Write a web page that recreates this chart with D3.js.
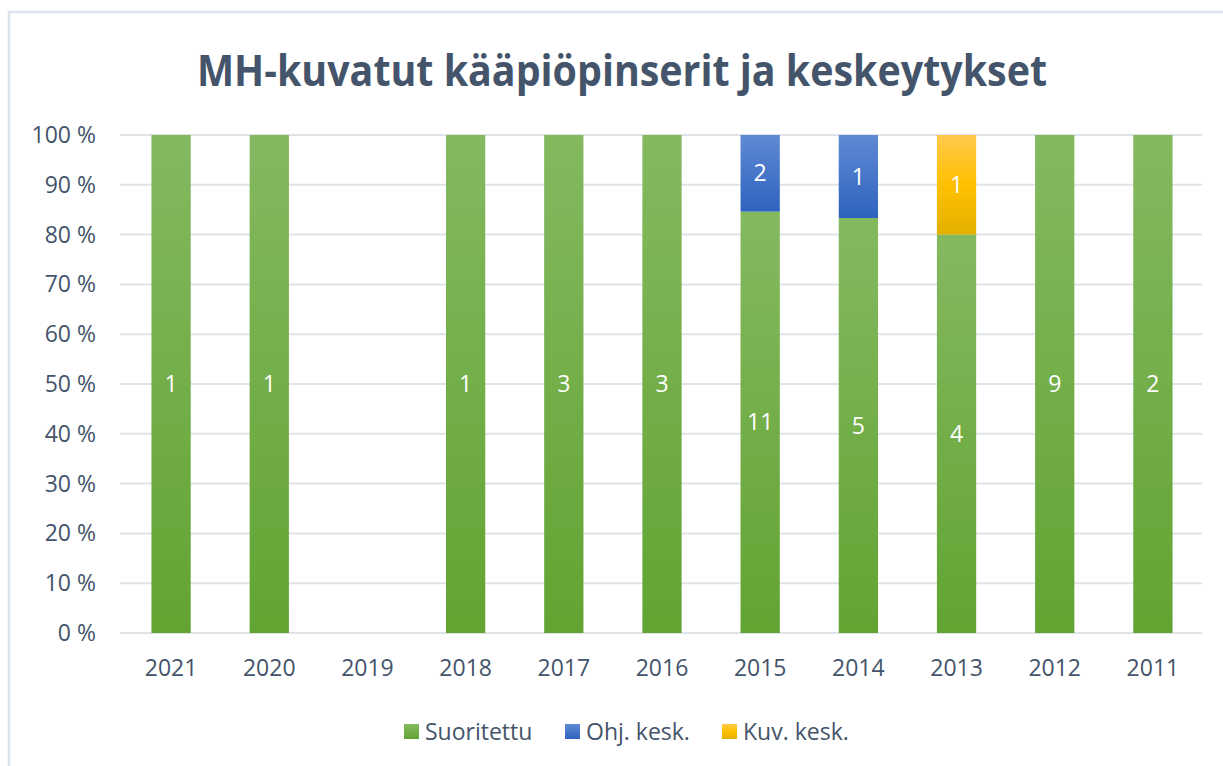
<!DOCTYPE html>
<html lang="fi">
<head>
  <meta charset="UTF-8">
  <title>MH-kuvatut kääpiöpinserit ja keskeytykset</title>
  <script src="https://d3js.org/d3.v7.min.js"></script>
  <style>
    body { margin: 0; background: white; }
    text { font-family: "Open Sans", "Noto Sans", sans-serif; fill: #44546a; }
  </style>
</head>
<body>
<svg id="chart" width="1223" height="766"></svg>

<script>
  // Chart data
  const years = ["2021", "2020", "2019", "2018", "2017", "2016", "2015", "2014", "2013", "2012", "2011"];
  const suoritettu = [1, 1, 0, 1, 3, 3, 11, 5, 4, 9, 2];
  const ohjKesk = [0, 0, 0, 0, 0, 0, 2, 1, 0, 0, 0];
  const kuvKesk = [0, 0, 0, 0, 0, 0, 0, 0, 1, 0, 0];
  const seriesNames = ["Suoritettu", "Ohj. kesk.", "Kuv. kesk."];
  const yTicks = [0, 0.1, 0.2, 0.3, 0.4, 0.5, 0.6, 0.7, 0.8, 0.9, 1];

  const rows = years.map((y, i) => ({year: y, s0: suoritettu[i], s1: ohjKesk[i], s2: kuvKesk[i]}));

  const svg = d3.select("#chart");

  // chart frame
  svg.append("rect")
          .attr("x", 9).attr("y", 12)
          .attr("width", 1230).attr("height", 770)
          .attr("fill", "white")
          .attr("stroke", "#dde3ea").attr("stroke-width", 2.5);

  // gradients per series, top lighter, bottom darker
  const grads = [
    [["0%", "#84b960"], ["100%", "#62a432"]],
    [["0%", "#5f89d3"], ["100%", "#2f63bf"]],
    [["0%", "#ffc94c"], ["50%", "#ffc000"], ["100%", "#e2b000"]]
  ];
  const defs = svg.append("defs");
  grads.forEach((stops, k) => {
    const g = defs.append("linearGradient").attr("id", "grad" + k)
            .attr("x1", 0).attr("y1", 0).attr("x2", 0).attr("y2", 1);
    stops.forEach(s => g.append("stop").attr("offset", s[0]).attr("stop-color", s[1]));
  });

  const x = d3.scaleBand().domain(years).range([122, 1202]).paddingInner(0.6).paddingOuter(0.3);
  const y = d3.scaleLinear().domain([0, 1]).range([633, 135]);

  // gridlines
  svg.append("g")
          .selectAll("line")
          .data(yTicks)
          .enter().append("line")
          .attr("x1", 120).attr("x2", 1202)
          .attr("y1", d => y(d)).attr("y2", d => y(d))
          .attr("stroke", "#dfe3e8").attr("stroke-width", 2);

  // y axis labels
  svg.append("g")
          .selectAll("text")
          .data(yTicks)
          .enter().append("text")
          .attr("x", 96).attr("y", d => y(d))
          .attr("dy", "0.35em")
          .attr("text-anchor", "end")
          .attr("font-size", 23)
          .text(d => Math.round(d * 100) + " %");

  // stacking normalised to 100 %
  const stack = d3.stack().keys(["s0", "s1", "s2"]).offset(d3.stackOffsetExpand);
  const layers = stack(rows);

  layers.forEach((layer, k) => {
    const g = svg.append("g");
    const segs = layer.map((d, i) => ({y0: d[0], y1: d[1], val: rows[i]["s" + k], year: years[i]}))
            .filter(d => d.val > 0);
    g.selectAll("rect")
            .data(segs)
            .enter().append("rect")
            .attr("x", d => x(d.year))
            .attr("width", x.bandwidth())
            .attr("y", d => y(d.y1))
            .attr("height", d => y(d.y0) - y(d.y1))
            .attr("fill", "url(#grad" + k + ")");
    g.selectAll("text")
            .data(segs)
            .enter().append("text")
            .attr("x", d => x(d.year) + x.bandwidth() / 2)
            .attr("y", d => (y(d.y0) + y(d.y1)) / 2)
            .attr("dy", "0.35em")
            .attr("text-anchor", "middle")
            .attr("font-size", 23)
            .style("fill", "white")
            .text(d => d.val);
  });

  // x axis labels
  svg.append("g")
          .selectAll("text")
          .data(years)
          .enter().append("text")
          .attr("x", d => x(d) + x.bandwidth() / 2)
          .attr("y", 668)
          .attr("dy", "0.35em")
          .attr("text-anchor", "middle")
          .attr("font-size", 23)
          .text(d => d);

  // title
  svg.append("text")
          .attr("x", 622).attr("y", 71)
          .attr("dy", "0.35em")
          .attr("text-anchor", "middle")
          .attr("font-size", 43)
          .attr("font-weight", "bold")
          .attr("textLength", 850)
          .attr("lengthAdjust", "spacingAndGlyphs")
          .text("MH-kuvatut kääpiöpinserit ja keskeytykset");

  // legend
  const legendX = [404, 565, 722];
  const legend = svg.append("g");
  seriesNames.forEach((name, k) => {
    legend.append("rect")
            .attr("x", legendX[k]).attr("y", 724)
            .attr("width", 15).attr("height", 15)
            .attr("fill", "url(#grad" + k + ")");
    legend.append("text")
            .attr("x", legendX[k] + 21).attr("y", 732)
            .attr("dy", "0.35em")
            .attr("font-size", 23)
            .text(name);
  });
</script>
</body>
</html>
